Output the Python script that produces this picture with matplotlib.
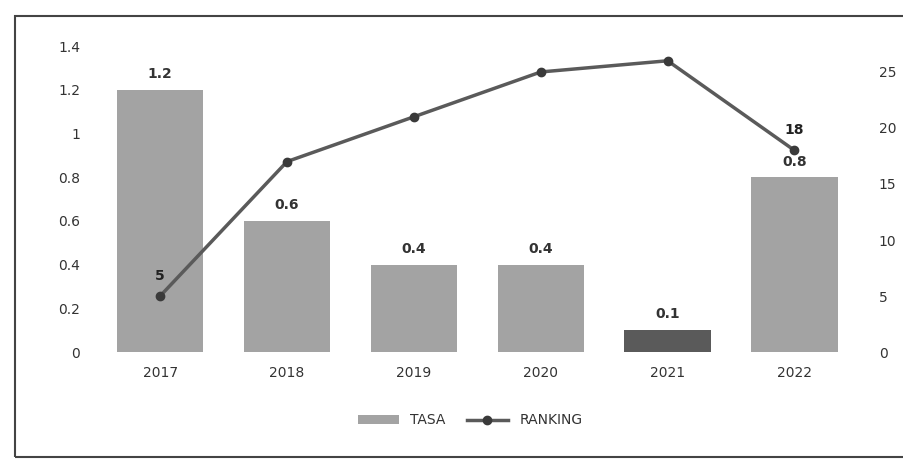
import matplotlib.pyplot as plt
from matplotlib.patches import Rectangle

# chart data
years = ['2017', '2018', '2019', '2020', '2021', '2022']
tasa = [1.2, 0.6, 0.4, 0.4, 0.1, 0.8]
ranking = [5, 17, 21, 25, 26, 18]
bar_colors = ['#a3a3a3', '#a3a3a3', '#a3a3a3', '#a3a3a3', '#5a5a5a', '#a3a3a3']
ranking_labels = {0: '5', 5: '18'}

plt.rcParams['font.family'] = 'DejaVu Sans'
fig = plt.figure(figsize=(9.04, 4.62), dpi=100)
ax = fig.add_axes([0.107, 0.238, 0.842, 0.662])

x = list(range(len(years)))
bars = ax.bar(x, tasa, width=0.68, color=bar_colors, label='TASA', zorder=2)
for xi, v in zip(x, tasa):
    ax.text(xi, v + 0.04, str(v), ha='center', va='bottom',
            fontsize=10, fontweight='bold', color='#333333')

ax.set_xlim(-0.5, 5.5)
ax.set_ylim(0, 1.4)
ax.set_yticks([0, 0.2, 0.4, 0.6, 0.8, 1, 1.2, 1.4])
ax.set_yticklabels(['0', '0.2', '0.4', '0.6', '0.8', '1', '1.2', '1.4'])
ax.set_xticks(x)
ax.set_xticklabels(years)
ax.tick_params(axis='both', length=0, labelsize=10, colors='#333333')
ax.tick_params(axis='y', pad=12)
ax.tick_params(axis='x', pad=10)
for s in ax.spines.values():
    s.set_visible(False)

ax2 = ax.twinx()
line, = ax2.plot(x, ranking, color='#5a5a5a', linewidth=2.5, marker='o',
                 markersize=6, markerfacecolor='#3a3a3a', markeredgecolor='#3a3a3a',
                 label='RANKING', zorder=3)
for i, txt in ranking_labels.items():
    ax2.text(x[i], ranking[i] + 1.2, txt, ha='center', va='bottom',
             fontsize=10, fontweight='bold', color='#222222')
ax2.set_ylim(0, 27.3)
ax2.set_yticks([0, 5, 10, 15, 20, 25])
ax2.tick_params(axis='y', length=0, labelsize=10, colors='#333333', pad=15)
for s in ax2.spines.values():
    s.set_visible(False)

fig.legend(handles=[bars, line], labels=['TASA', 'RANKING'], loc='center',
           bbox_to_anchor=(0.52, 0.09), ncol=2, frameon=False, fontsize=10,
           handlelength=3, columnspacing=1.5, labelcolor='#333333')

# outer frame of the chart box
fig.patches.append(Rectangle((0.017, 0.01), 0.99, 0.955, transform=fig.transFigure,
                             fill=False, edgecolor='#444444', linewidth=1.5))

plt.savefig('out.png', dpi=100)
